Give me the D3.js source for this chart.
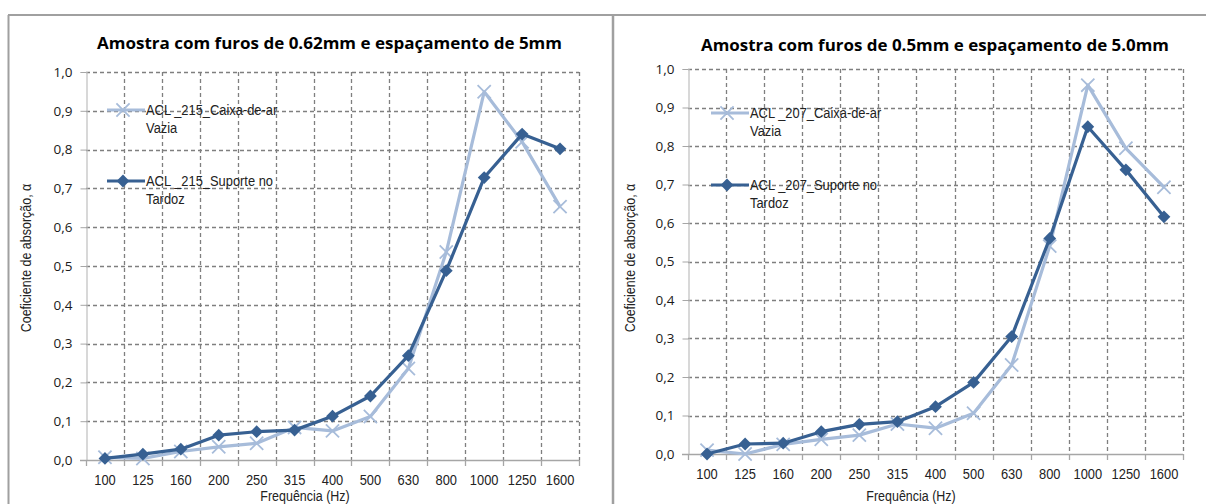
<!DOCTYPE html>
<html>
<head>
<meta charset="utf-8">
<title>Coeficiente de absorção</title>
<script src="https://d3js.org/d3.v7.min.js"></script>
<style>
  body { margin: 0; background: #fff; }
  svg { display: block; }
  .title { font-family: "Open Sans", "Noto Sans", sans-serif; font-weight: bold; font-size: 15.5px; fill: #000; }
  .ytick { font-family: "Open Sans", "Noto Sans", sans-serif; font-size: 13.5px; fill: #1a1a1a; }
  .narrow { font-family: "Liberation Sans", Arial, sans-serif; fill: #222; }
</style>
</head>
<body>
<div id="chart"></div>
<script>
// frequency bands (Hz)
var freqs = ["100", "125", "160", "200", "250", "315", "400", "500", "630", "800", "1000", "1250", "1600"];
var yTicks = [0, 0.1, 0.2, 0.3, 0.4, 0.5, 0.6, 0.7, 0.8, 0.9, 1.0];

// sample 215 (0.62mm holes, 5mm spacing)
var vazia215   = [0.007, 0.004, 0.022, 0.034, 0.043, 0.084, 0.075, 0.112, 0.236, 0.536, 0.949, 0.82, 0.653];
var suporte215 = [0.004, 0.015, 0.028, 0.064, 0.073, 0.077, 0.113, 0.165, 0.269, 0.488, 0.728, 0.84, 0.802];

// sample 207 (0.5mm holes, 5.0mm spacing)
var vazia207   = [0.01, 0.0, 0.025, 0.038, 0.049, 0.078, 0.067, 0.106, 0.231, 0.54, 0.958, 0.794, 0.693];
var suporte207 = [0.0, 0.026, 0.028, 0.058, 0.077, 0.084, 0.123, 0.186, 0.305, 0.56, 0.85, 0.738, 0.616];

var W = 1206, H = 504;
var light = "#A7BCDA", dark = "#376092", grid = "#7F7F7F", axisCol = "#A6A6A6";

var svg = d3.select("#chart").append("svg").attr("width", W).attr("height", H);

// outer frame like a table
var frame = svg.append("g").attr("stroke", "#A0A0A0").attr("stroke-width", 2);
frame.append("line").attr("x1", 8).attr("x2", W).attr("y1", 15).attr("y2", 15);
frame.append("line").attr("x1", 8.5).attr("x2", 8.5).attr("y1", 15).attr("y2", H);
frame.append("line").attr("x1", 613).attr("x2", 613).attr("y1", 15).attr("y2", H).attr("stroke-width", 2.5);

// narrow text (Arial Narrow look) by squeezing Liberation Sans
function narrowText(parent, x, y, size, anchor, str, rot) {
  var t = parent.append("g")
    .attr("transform", "translate(" + x + "," + y + ")" + (rot ? " rotate(" + rot + ")" : "") + " scale(0.86,1)")
    .append("text").attr("class", "narrow").attr("font-size", size)
    .attr("text-anchor", anchor || "start");
  if (str != null) t.text(str);
  return t;
}

var panels = [
  {
    title: "Amostra com furos de 0.62mm e espaçamento de 5mm",
    titleX: 97, titleW: 465, titleY: 48.5,
    left: 86, right: 579, top: 72, bottom: 460,
    yLabelX: 31, xLabelX: 305, tickY: 485,
    legX: 107, legY: [110, 181],
    names: [["ACL _215_Caixa-de-ar", "Vazia"], ["ACL _215_Suporte no", "Tardoz"]],
    series: [vazia215, suporte215]
  },
  {
    title: "Amostra com furos de 0.5mm e espaçamento de 5.0mm",
    titleX: 701, titleW: 468, titleY: 51,
    left: 688, right: 1183, top: 69, bottom: 454,
    yLabelX: 635, xLabelX: 911, tickY: 479,
    legX: 711, legY: [113, 185],
    names: [["ACL _207_Caixa-de-ar", "Vazia"], ["ACL _207_Suporte no", "Tardoz"]],
    series: [vazia207, suporte207]
  }
];

panels.forEach(function(p) {
  var g = svg.append("g");
  var x = d3.scaleBand().domain(freqs).range([p.left, p.right]);
  var y = d3.scaleLinear().domain([0, 1]).range([p.bottom, p.top]);
  var bounds = d3.range(freqs.length + 1).map(function(i) { return p.left + i * x.step(); });

  g.append("text").attr("class", "title")
    .attr("x", p.titleX).attr("y", p.titleY)
    .attr("textLength", p.titleW).attr("lengthAdjust", "spacingAndGlyphs")
    .text(p.title);

  // dashed grid
  g.selectAll(".hg").data(yTicks.slice(1)).enter().append("line")
    .attr("x1", p.left).attr("x2", p.right)
    .attr("y1", function(d) { return Math.round(y(d)) + 0.5; })
    .attr("y2", function(d) { return Math.round(y(d)) + 0.5; })
    .attr("stroke", grid).attr("stroke-width", 1.3).attr("stroke-dasharray", "4,3");
  g.selectAll(".vg").data(bounds.slice(1)).enter().append("line")
    .attr("x1", function(d) { return Math.round(d) + 0.5; })
    .attr("x2", function(d) { return Math.round(d) + 0.5; })
    .attr("y1", p.top).attr("y2", p.bottom)
    .attr("stroke", grid).attr("stroke-width", 1.3).attr("stroke-dasharray", "4,3");

  // axes
  var yAxis = g.append("g").attr("transform", "translate(" + (p.left + 0.5) + ",0)")
    .call(d3.axisLeft(y).tickValues(yTicks).tickSize(6).tickPadding(8)
      .tickFormat(function(d) { return d3.format(".1f")(d).replace(".", ","); }));
  yAxis.select(".domain").attr("stroke", "#BFBFBF").attr("stroke-width", 1.2);
  yAxis.selectAll(".tick line").attr("stroke", axisCol);
  yAxis.selectAll(".tick text").attr("class", "ytick").attr("font-size", null).attr("font-family", null);

  var xAxisG = g.append("g");
  xAxisG.append("line").attr("x1", p.left - 6).attr("x2", p.right)
    .attr("y1", p.bottom + 0.5).attr("y2", p.bottom + 0.5)
    .attr("stroke", axisCol).attr("stroke-width", 1.3);
  xAxisG.selectAll(".xt").data(bounds).enter().append("line")
    .attr("x1", function(d) { return Math.round(d) + 0.5; })
    .attr("x2", function(d) { return Math.round(d) + 0.5; })
    .attr("y1", p.bottom).attr("y2", p.bottom + 6)
    .attr("stroke", axisCol).attr("stroke-width", 1.3);
  freqs.forEach(function(f) {
    narrowText(xAxisG, x(f) + x.bandwidth() / 2, p.tickY, 15, "middle", f);
  });

  narrowText(g, p.xLabelX, 501, 14.5, "middle", "Frequência (Hz)");
  narrowText(g, p.yLabelX, 258, 14.5, "middle", "Coeficiente de absorção, α", -90);

  var line = d3.line()
    .x(function(d, i) { return x(freqs[i]) + x.bandwidth() / 2; })
    .y(function(d) { return y(d); });

  var cross = d3.symbol().type(d3.symbolX).size(115);
  var diamond = d3.symbol().type(d3.symbolSquare).size(82);

  function drawMarker(sel, k) {
    if (k === 0) {
      sel.append("path").attr("d", cross).attr("fill", "none")
        .attr("stroke", light).attr("stroke-width", 1.8);
    } else {
      sel.append("path").attr("d", diamond).attr("fill", dark)
        .attr("transform", "rotate(45)");
    }
  }

  p.series.forEach(function(vals, k) {
    var col = k === 0 ? light : dark;
    g.append("path").datum(vals).attr("d", line)
      .attr("fill", "none").attr("stroke", col).attr("stroke-width", 3.2)
      .attr("stroke-linejoin", "round");
    g.selectAll(".m" + k).data(vals).enter().append("g")
      .attr("transform", function(d, i) {
        return "translate(" + (x(freqs[i]) + x.bandwidth() / 2) + "," + y(d) + ")";
      })
      .each(function() { drawMarker(d3.select(this), k); });
  });

  // legend
  p.names.forEach(function(nm, k) {
    var ly = p.legY[k];
    var col = k === 0 ? light : dark;
    g.append("line").attr("x1", p.legX).attr("x2", p.legX + 38)
      .attr("y1", ly).attr("y2", ly)
      .attr("stroke", col).attr("stroke-width", 3.2);
    var mk = g.append("g").attr("transform", "translate(" + (p.legX + 16) + "," + ly + ")");
    drawMarker(mk, k);
    var t = narrowText(g, p.legX + 39, ly + 5, 15, "start", null);
    t.append("tspan").attr("x", 0).text(nm[0]);
    t.append("tspan").attr("x", 0).attr("dy", 18.5).text(nm[1]);
  });
});
</script>
</body>
</html>
